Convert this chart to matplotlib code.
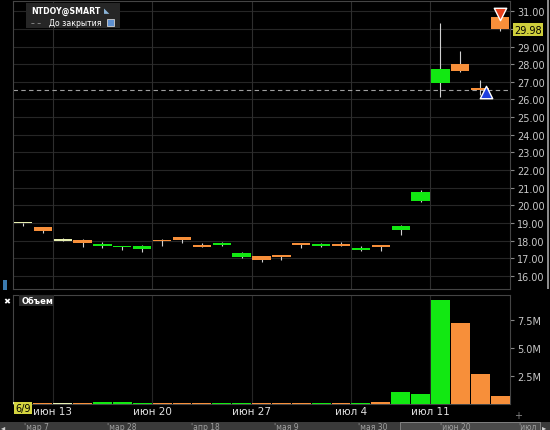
import numpy as np
import matplotlib.pyplot as plt
from matplotlib.patches import Rectangle

# данные свечей (NTDOY, дневки)
dates = ['6/9', '6/10', '6/13', '6/14', '6/15', '6/16', '6/17', '6/20', '6/21', '6/22',
         '6/23', '6/24', '6/27', '6/28', '6/29', '6/30', '7/1', '7/5', '7/6', '7/7',
         '7/8', '7/11', '7/12', '7/13', '7/14']
open_ = [18.98, 18.75, 18.00, 18.05, 17.69, 17.62, 17.53, 18.05, 18.18, 17.74,
         17.74, 17.05, 17.10, 17.18, 17.86, 17.69, 17.82, 17.44, 17.74, 18.60,
         20.26, 26.92, 28.01, 26.58, 30.70]
close = [18.98, 18.52, 18.00, 17.86, 17.82, 17.69, 17.67, 17.95, 18.05, 17.65,
         17.86, 17.29, 16.88, 17.06, 17.76, 17.80, 17.70, 17.55, 17.65, 18.84,
         20.77, 27.73, 27.60, 26.55, 29.98]
high = [19.00, 18.76, 18.12, 18.06, 17.93, 17.70, 17.76, 18.06, 18.19, 17.88,
        17.93, 17.33, 17.12, 17.19, 17.87, 17.88, 17.90, 17.67, 17.75, 18.86,
        20.88, 30.32, 28.73, 27.10, 30.75]
low = [18.80, 18.43, 17.98, 17.61, 17.56, 17.46, 17.36, 17.70, 17.86, 17.64,
       17.70, 17.03, 16.76, 16.91, 17.57, 17.61, 17.69, 17.43, 17.42, 18.33,
       20.20, 26.12, 27.54, 26.25, 29.87]
volume = [0.12, 0.04, 0.05, 0.04, 0.10, 0.10, 0.04, 0.04, 0.03, 0.08,
          0.04, 0.08, 0.08, 0.04, 0.03, 0.04, 0.03, 0.03, 0.09, 0.99,
          0.83, 9.35, 7.20, 2.66, 0.67]  # млн

prev_close = 26.55
last_price = 29.98

week_starts = [2, 7, 12, 17, 21]
week_labels = ['июн 13', 'июн 20', 'июн 27', 'июл 4', 'июл 11']
price_ticks = np.arange(16, 32, 1)
vol_ticks = [2.5, 5.0, 7.5]
vol_tick_labels = ['2.5M', '5.0M', '7.5M']
scroll_labels = ["'мар 7", "'мар 28", "'апр 18", "'мая 9", "'мая 30", "'июн 20", "'июл"]
scroll_x = [24, 107, 191, 274, 358, 440, 518]

GREEN = '#12e812'
ORANGE = '#f78f3a'
PALE = '#e8f0b0'
GRID = '#262626'
TXT = '#c8c8c8'

W, H = 550, 431
fig = plt.figure(figsize=(W / 100, H / 100), dpi=100, facecolor='black')


def fx(px):
    return px / W


def fy(py):
    return 1 - py / H


x = np.arange(len(dates))
colors = []
for o, c in zip(open_, close):
    if c > o:
        colors.append(GREEN)
    elif c < o:
        colors.append(ORANGE)
    else:
        colors.append(PALE)

# --- ценовая панель ---
ax = fig.add_axes([fx(13), fy(290), fx(510) - fx(13), fy(2) - fy(290)], facecolor='black')
ax.set_xlim(-0.5, len(dates) - 0.5)
ax.set_ylim(15.25, 31.58)
for y in price_ticks:
    ax.axhline(y, color=GRID, lw=0.8, zorder=0)
for w in week_starts:
    ax.axvline(w - 0.5, color='#2e2e2e', lw=0.8, zorder=0)

ax.vlines(x, low, high, color='#d0d0d0', lw=0.8, zorder=2)
bottoms = np.minimum(open_, close)
heights = np.maximum(np.abs(np.array(close) - np.array(open_)), 0.09)
ax.bar(x, heights, bottom=bottoms, width=0.92, color=colors, zorder=3)

ax.axhline(prev_close, color='#a0a0a0', lw=0.8, ls=(0, (4, 3)), zorder=1)
ax.scatter([x[-1]], [30.85], marker='v', s=80, color='#e8401c', edgecolors='white',
           linewidths=1, zorder=5)
ax.scatter([x[-2] + 0.3], [26.42], marker='^', s=80, color='#1f3fe0', edgecolors='white',
           linewidths=1, zorder=5)

ax.yaxis.tick_right()
ax.set_yticks(price_ticks)
# метка 30.00 закрыта плашкой последней цены
ax.set_yticklabels(['' if v == 30 else f'{v:.2f}' for v in price_ticks])
ax.tick_params(axis='y', colors='#888888', labelcolor=TXT, labelsize=7, length=3, pad=2)
ax.tick_params(axis='x', bottom=False, labelbottom=False)
for s in ax.spines.values():
    s.set_color('#444444')
    s.set_linewidth(0.8)

# --- объём ---
axv = fig.add_axes([fx(13), fy(404.5), fx(510) - fx(13), fy(296) - fy(404.5)], facecolor='black')
axv.set_xlim(-0.5, len(dates) - 0.5)
axv.set_ylim(0, 9.76)
for w in week_starts:
    axv.axvline(w - 0.5, color=GRID, lw=0.8, zorder=0)
axv.bar(x, volume, width=0.95, color=colors, zorder=3)
axv.yaxis.tick_right()
axv.set_yticks(vol_ticks)
axv.set_yticklabels(vol_tick_labels)
axv.tick_params(axis='y', colors='#888888', labelcolor=TXT, labelsize=7, length=3, pad=2)
axv.set_xticks([w - 0.5 for w in week_starts])
axv.set_xticklabels(week_labels)
axv.tick_params(axis='x', length=0, labelsize=7.5, labelcolor='#e0e0e0', pad=2)
for s in axv.spines.values():
    s.set_color('#444444')
    s.set_linewidth(0.8)

# --- подписи и элементы интерфейса ---
fig.patches.append(Rectangle((fx(26), fy(29)), fx(120) - fx(26), fy(4) - fy(29),
                             transform=fig.transFigure, facecolor='#262626', edgecolor='none'))
fig.text(fx(31), fy(11), 'NTDOY@SMART', color='white', fontsize=5.7, fontweight='bold', va='center')
fig.text(fx(104), fy(11), '◣', color='#8ab4d8', fontsize=5, va='center')
fig.text(fx(31), fy(23), '– –', color='#9a9a9a', fontsize=5.5, va='center')
fig.text(fx(49), fy(23), 'До закрытия', color='white', fontsize=5.6, va='center')
fig.patches.append(Rectangle((fx(107), fy(27)), fx(7), fy(0) - fy(7),
                             transform=fig.transFigure, facecolor='#5d8fd0', edgecolor='#d0d0d0', lw=0.6))

fig.text(fx(514), fy(30.5), f'{last_price:.2f}', color='black', fontsize=7, va='center',
         bbox=dict(boxstyle='square,pad=0.15', facecolor='#cfcf3c', edgecolor='none'))

fig.patches.append(Rectangle((fx(19), fy(307)), fx(35), fy(0) - fy(11),
                             transform=fig.transFigure, facecolor='#2a2a2a', edgecolor='none'))
fig.text(fx(22), fy(302), 'Объем', color='white', fontsize=6, fontweight='bold', va='center')
fig.text(fx(3), fy(302), '✖', color='white', fontsize=6, va='center')
fig.patches.append(Rectangle((fx(3), fy(291)), fx(4), fy(0) - fy(10),
                             transform=fig.transFigure, facecolor='#3a7ab0', edgecolor='none'))

fig.text(fx(15), fy(409), dates[0], color='black', fontsize=7, va='center',
         bbox=dict(boxstyle='square,pad=0.12', facecolor='#d4d440', edgecolor='none'))
fig.text(fx(514), fy(416), '+', color='#888888', fontsize=7, va='center')

# полоса прокрутки внизу
fig.patches.append(Rectangle((0, 0), 1, fy(423), transform=fig.transFigure,
                             facecolor='#3a3a3a', edgecolor='none'))
fig.patches.append(Rectangle((fx(400), 0), fx(540) - fx(400), fy(423), transform=fig.transFigure,
                             facecolor='#4a4a4a', edgecolor='#8a8a8a', lw=0.6))
for lab, px in zip(scroll_labels, scroll_x):
    fig.text(fx(px), fy(428), lab, color='#a0a0a0', fontsize=5.5, va='center')
fig.text(fx(1), fy(428), '◂', color='#d0d0d0', fontsize=6, va='center')
fig.text(fx(542), fy(428), '▸', color='#d0d0d0', fontsize=6, va='center')

# правая вертикальная полоса
fig.patches.append(Rectangle((fx(547), fy(290)), fx(2), fy(0) - fy(290),
                             transform=fig.transFigure, facecolor='#8a8a8a', edgecolor='none'))

fig.savefig('out.png', dpi=100, facecolor='black')
